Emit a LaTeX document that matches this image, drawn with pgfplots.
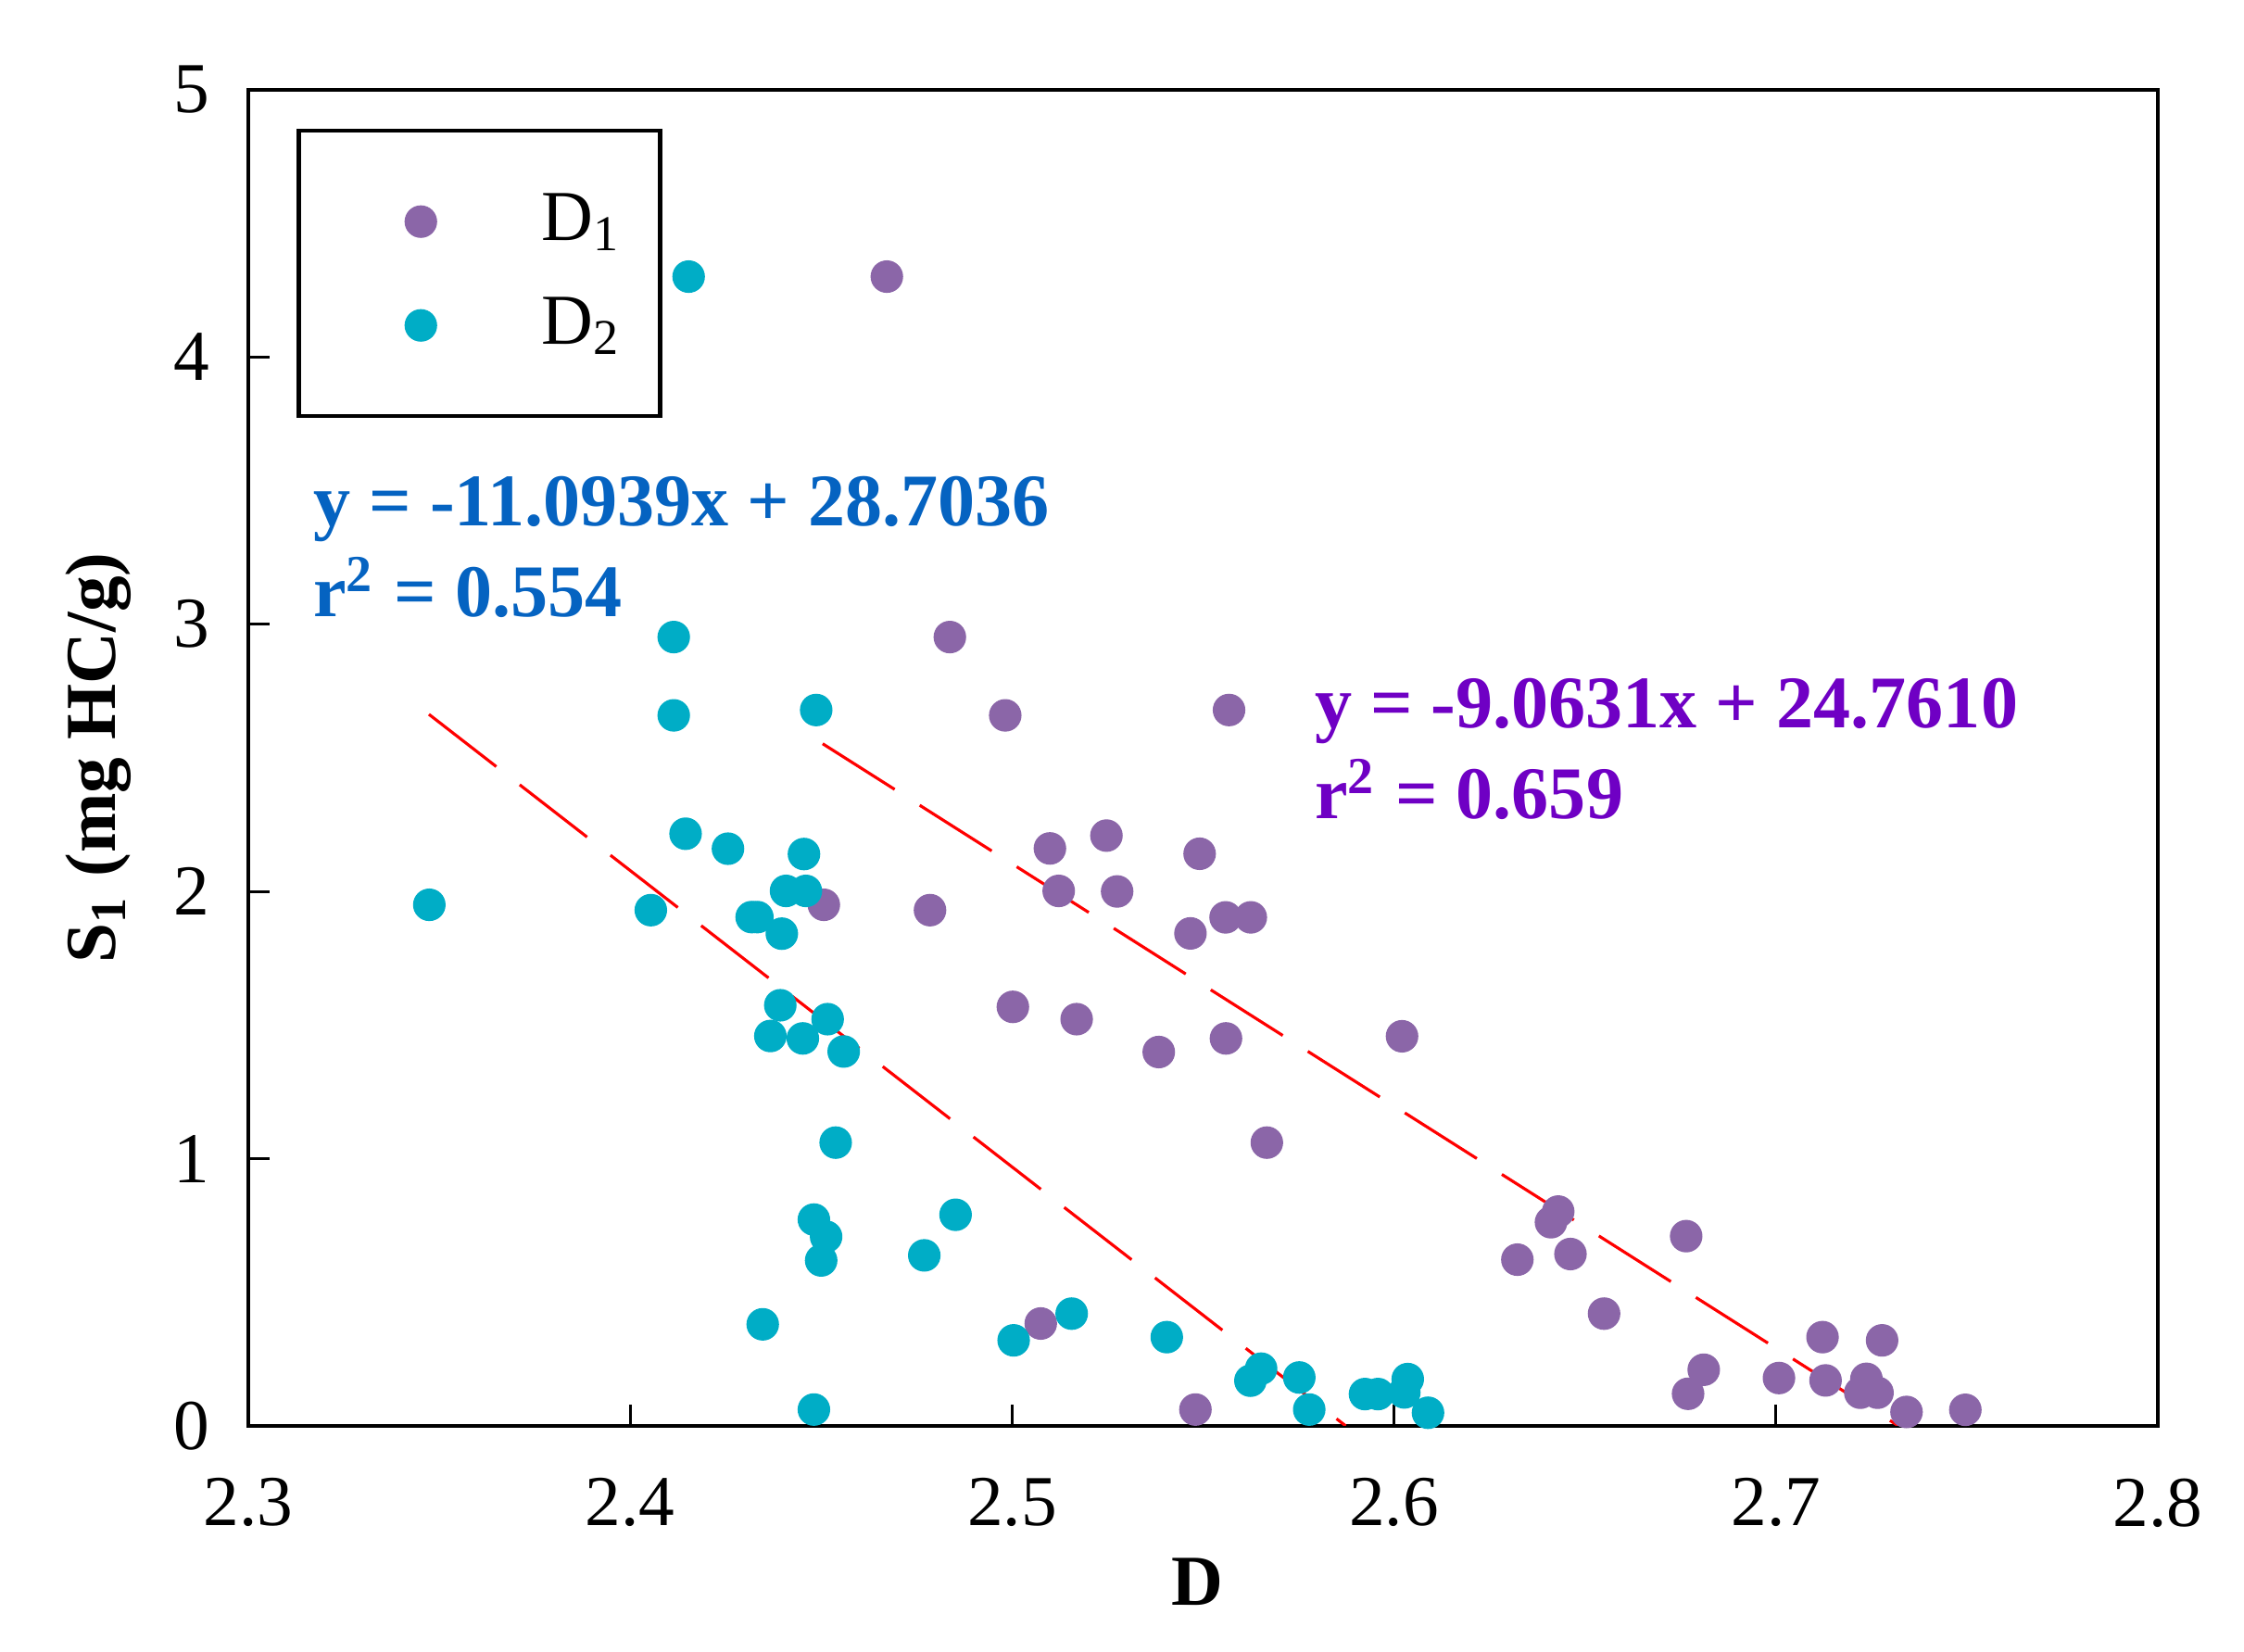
\documentclass[border=0pt]{standalone}
\usepackage{fontspec}
\setmainfont{Liberation Serif}
\usepackage{pgfplots}
\pgfplotsset{compat=1.18}

\definecolor{dpurple}{HTML}{8B66A8}
\definecolor{dcyan}{HTML}{00ADC6}
\definecolor{eqblue}{HTML}{0563C1}
\definecolor{eqpurple}{HTML}{6F00C4}

\begin{document}
\begin{tikzpicture}
\begin{axis}[
  name=ax,
  scale only axis,
  width=103.05mm, height=72.1mm,
  xmin=2.3, xmax=2.8, ymin=0, ymax=5,
  xtick={2.3,2.4,2.5,2.6,2.7,2.8},
  xticklabels={2.3,2.4,2.5,2.6,2.7,2.8},
  ytick={0,1,2,3,4,5},
  yticklabels={0,1,2,3,4,5},
  tick align=inside, tick pos=left,
  major tick length=1.15mm,
  tick style={line width=0.45pt, black},
  axis line style={line width=0.65pt},
  ticklabel style={font=\fontsize{11}{13}\selectfont},
  xticklabel style={yshift=-1.6mm},
  yticklabel style={xshift=-0.85mm},
  xlabel={\textbf{D}},
  ylabel={\textbf{S\textsubscript{1} (mg HC/g)}},
  label style={font=\fontsize{11}{13}\selectfont},
  xlabel style={at={(axis description cs:0.497,-0.1165)}, anchor=center},
  ylabel style={at={(axis description cs:-0.0786,0.5)}, anchor=center, rotate=0},
  legend cell align=left,
  legend style={at={(axis description cs:0.0252,0.9709)}, anchor=north west,
    draw=black, line width=0.65pt, inner sep=2.1mm,
    nodes={inner sep=0pt, font=\fontsize{11}{13}\selectfont},
    /tikz/column sep=2.0mm, /tikz/row sep=0pt},
  legend image code/.code={%
    \path[draw=none] (-4.5mm,-2.8mm) rectangle (4.5mm,2.8mm);
    \draw[#1] plot coordinates {(0mm,0mm)};},
]

% fitted lines
\addplot[red, line width=0.45pt, dash pattern=on 4.6mm off 1.6mm, forget plot]
  coordinates {(2.3473,2.6629) (2.58735,0)};
\addplot[red, line width=0.45pt, dash pattern=on 4.6mm off 1.6mm, forget plot]
  coordinates {(2.4504,2.5528) (2.73208,0)};

% D1
\addplot[dpurple, only marks, mark=*, mark size=2.35pt,
  mark options={draw=dpurple, fill=dpurple, line width=0.3pt}] coordinates {
  (2.4672,4.301) (2.4837,2.952) (2.4982,2.659) (2.5568,2.679)
  (2.5099,2.161) (2.5247,2.209) (2.5122,2.002) (2.5275,2.000)
  (2.5491,2.141) (2.4507,1.950) (2.4785,1.930) (2.5467,1.843)
  (2.5559,1.903) (2.5625,1.903) (2.5002,1.568) (2.5169,1.522)
  (2.5384,1.399) (2.5560,1.450) (2.6021,1.458) (2.5667,1.060)
  (2.5075,0.383) (2.5480,0.061) (2.6430,0.802) (2.6411,0.762)
  (2.6323,0.622) (2.6462,0.643) (2.6550,0.420) (2.6765,0.710)
  (2.6811,0.210) (2.6770,0.120) (2.7008,0.179) (2.7122,0.332)
  (2.7130,0.170) (2.7278,0.320) (2.7237,0.176) (2.7221,0.124)
  (2.7266,0.124) (2.7342,0.052) (2.7496,0.060)
};
\addlegendentry{D\textsubscript{1}}

% D2
\addplot[dcyan, only marks, mark=*, mark size=2.35pt,
  mark options={draw=dcyan, fill=dcyan, line width=0.3pt}] coordinates {
  (2.4153,4.301) (2.3474,1.950) (2.4054,1.930) (2.4114,2.952)
  (2.4114,2.659) (2.4487,2.679) (2.4145,2.216) (2.4256,2.160)
  (2.4455,2.140) (2.4408,2.002) (2.4460,2.002) (2.4318,1.904)
  (2.4333,1.904) (2.4397,1.842) (2.4393,1.574) (2.4367,1.459)
  (2.4452,1.450) (2.4517,1.522) (2.4559,1.401) (2.4538,1.060)
  (2.4481,0.772) (2.4513,0.708) (2.4500,0.619) (2.4347,0.380)
  (2.4481,0.061) (2.4770,0.638) (2.4852,0.790) (2.5004,0.320)
  (2.5156,0.420) (2.5405,0.332) (2.5624,0.169) (2.5652,0.214)
  (2.5752,0.181) (2.5778,0.061) (2.5924,0.119) (2.5958,0.119)
  (2.6036,0.175) (2.6027,0.125) (2.6089,0.049)
};
\addlegendentry{D\textsubscript{2}}

\node[anchor=base west, inner sep=0pt, text=eqblue,
  font=\fontsize{11.4}{13}\selectfont\bfseries]
  at (axis cs:2.3167,3.367) {y = -11.0939x + 28.7036};
\node[anchor=base west, inner sep=0pt, text=eqblue,
  font=\fontsize{11.4}{13}\selectfont\bfseries]
  at (axis cs:2.3167,3.027) {r\textsuperscript{2} = 0.554};
\node[anchor=base west, inner sep=0pt, text=eqpurple,
  font=\fontsize{11.4}{13}\selectfont\bfseries]
  at (axis cs:2.5789,2.611) {y = -9.0631x + 24.7610};
\node[anchor=base west, inner sep=0pt, text=eqpurple,
  font=\fontsize{11.4}{13}\selectfont\bfseries]
  at (axis cs:2.5789,2.271) {r\textsuperscript{2} = 0.659};
\end{axis}
\path ([shift={(-13.4mm,-12.2mm)}]ax.south west)
  rectangle ([shift={(4.65mm,4.85mm)}]ax.north east);
\end{tikzpicture}
\end{document}
